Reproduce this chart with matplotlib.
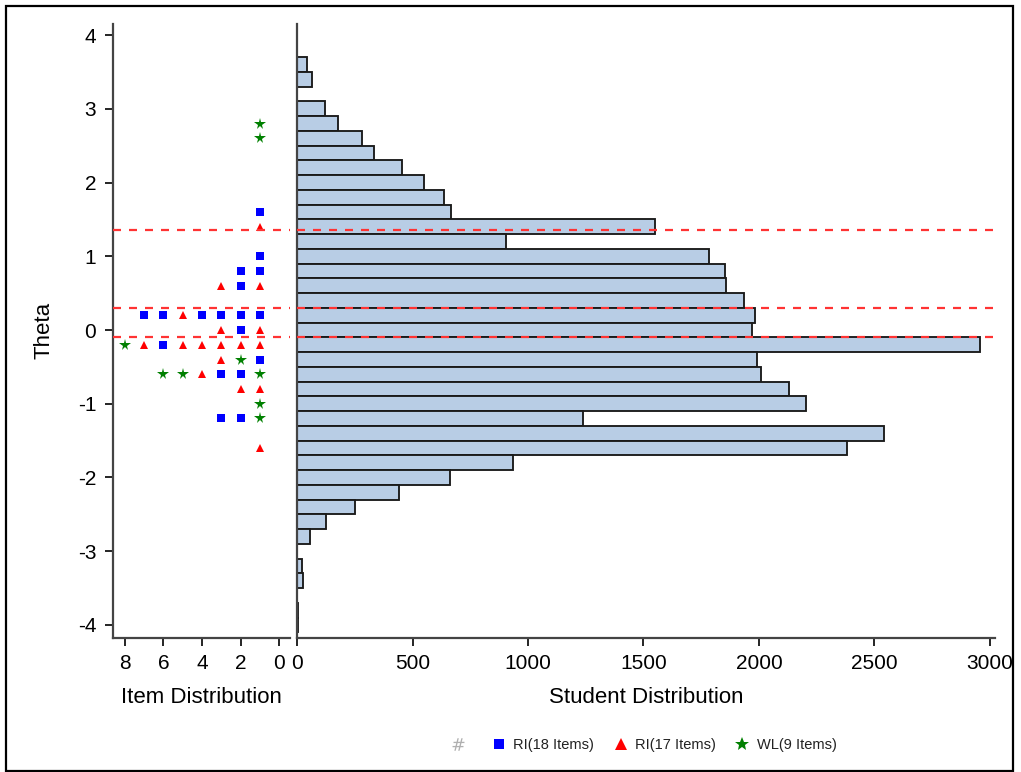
import matplotlib
matplotlib.use("Agg")
import matplotlib.pyplot as plt
from matplotlib.lines import Line2D
from matplotlib.patches import Rectangle

plt.rcParams['font.family'] = ['Liberation Sans', 'DejaVu Sans']
plt.rcParams['axes.unicode_minus'] = False

# ---- data ----
theta_bins = [3.6, 3.4, 3.2, 3.0, 2.8, 2.6, 2.4, 2.2, 2.0, 1.8, 1.6, 1.4, 1.2, 1.0,
              0.8, 0.6, 0.4, 0.2, 0.0, -0.2, -0.4, -0.6, -0.8, -1.0, -1.2, -1.4,
              -1.6, -1.8, -2.0, -2.2, -2.4, -2.6, -2.8, -3.0, -3.2, -3.4, -3.6,
              -3.8, -4.0]
student_counts = [45, 63, 0, 120, 179, 280, 335, 453, 551, 635, 665, 1550, 905, 1784,
                  1853, 1857, 1935, 1981, 1968, 2957, 1990, 2009, 2131, 2203, 1239, 2543,
                  2382, 937, 662, 443, 251, 125, 55, 0, 20, 25, 0,
                  3, 3]

ri18_theta = [1.6, 1.0, 0.8, 0.8, 0.6, 0.2, 0.2, 0.2, 0.2, 0.2, 0.2, 0.0, -0.2, -0.4,
              -0.6, -0.6, -1.2, -1.2]
ri18_pos = [1, 1, 2, 1, 2, 7, 6, 4, 3, 2, 1, 2, 6, 1, 3, 2, 3, 2]

ri17_theta = [1.4, 0.6, 0.6, 0.2, 0.0, 0.0, -0.2, -0.2, -0.2, -0.2, -0.2, -0.2, -0.4,
              -0.6, -0.8, -0.8, -1.6]
ri17_pos = [1, 3, 1, 5, 3, 1, 7, 5, 4, 3, 2, 1, 3, 4, 2, 1, 1]

wl9_theta = [2.8, 2.6, -0.2, -0.4, -0.6, -0.6, -0.6, -1.0, -1.2]
wl9_pos = [1, 1, 8, 2, 6, 5, 1, 1, 1]

cut_scores = [1.355, 0.30, -0.10]

legend_labels = ["RI(18 Items)", "RI(17 Items)", "WL(9 Items)"]

# ---- figure ----
W, H = 1021, 772
fig = plt.figure(figsize=(W / 100, H / 100), dpi=100)

def fx(px):
    return px / W

def fy(py):
    return 1 - py / H

top_px, bot_px = 24, 637.5
axL = fig.add_axes([fx(113), fy(bot_px), fx(290) - fx(113), fy(top_px) - fy(bot_px)])
axR = fig.add_axes([fx(296.7), fy(bot_px), fx(995) - fx(296.7), fy(top_px) - fy(bot_px)])

ylim = (-4.17, 4.15)
spine_col = '#444444'

for ax in (axL, axR):
    ax.set_ylim(*ylim)
    for s in ('top', 'right'):
        ax.spines[s].set_visible(False)
    for s in ('left', 'bottom'):
        ax.spines[s].set_color(spine_col)
        ax.spines[s].set_linewidth(1.6)
    ax.tick_params(axis='both', direction='out', length=6, width=1.2, color='black',
                   labelsize=15, pad=6)
    ax.set_facecolor('none')

# left: item distribution
axL.set_xlim(8.62, -0.57)
axL.set_xticks([8, 6, 4, 2, 0])
axL.set_yticks([-4, -3, -2, -1, 0, 1, 2, 3, 4])
axL.set_ylabel("Theta", fontsize=16, labelpad=17)
axL.set_xlabel("Item Distribution", fontsize=16, labelpad=10)

axL.plot(ri18_pos, ri18_theta, linestyle='none', marker='s', color='#0000FF',
         markersize=5.3, markeredgewidth=0)
axL.plot(ri17_pos, ri17_theta, linestyle='none', marker='^', color='#FF0000',
         markersize=5.8, markeredgewidth=0)
axL.plot(wl9_pos, wl9_theta, linestyle='none', marker='*', color='#008000',
         markersize=8.5, markeredgewidth=0)

# right: student distribution
axR.set_xlim(-1.5, 3022)
axR.set_xticks([0, 500, 1000, 1500, 2000, 2500, 3000])
axR.set_yticks([])
axR.set_xlabel("Student Distribution", fontsize=16, labelpad=10)
axR.barh(theta_bins, student_counts, height=0.2, left=0, color='#B8CDE5',
         edgecolor='#1a1a1a', linewidth=1.35, zorder=2)

for c in cut_scores:
    for ax in (axL, axR):
        ax.axhline(c, color='#FF3333', linewidth=1.6, linestyle=(0, (3.6, 3.6)),
                   zorder=3)

# legend
handles = [
    Line2D([], [], linestyle='none', marker='$\\#$', color='#b0b0b0', markersize=9,
           markeredgewidth=0),
    Line2D([], [], linestyle='none', marker='s', color='#0000FF', markersize=7,
           markeredgewidth=0),
    Line2D([], [], linestyle='none', marker='^', color='#FF0000', markersize=8,
           markeredgewidth=0),
    Line2D([], [], linestyle='none', marker='*', color='#008000', markersize=10,
           markeredgewidth=0),
]
labels = [""] + legend_labels
fig.legend(handles, labels, loc='center', bbox_to_anchor=(fx(643), fy(745)), ncol=4,
           frameon=False, fontsize=10.5, handletextpad=0.4, columnspacing=1.2,
           handlelength=1.2, labelcolor='#222222')

# outer frame
fig.add_artist(Rectangle((fx(6), fy(770.5)), fx(1013) - fx(6), fy(5.5) - fy(770.5),
                         transform=fig.transFigure, fill=False, edgecolor='black',
                         linewidth=1.6))

fig.savefig("out.png", dpi=100)
